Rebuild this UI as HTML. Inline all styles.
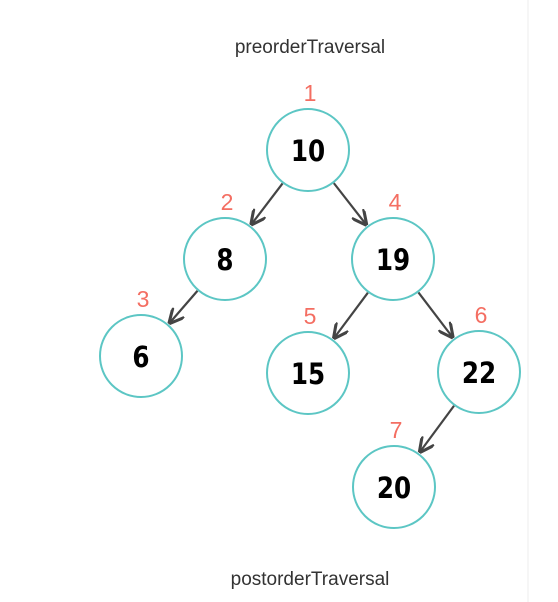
<!DOCTYPE html>
<html><head><meta charset="utf-8"><style>
html,body{margin:0;padding:0;background:#fff;}
svg{display:block;}
</style></head><body>
<svg id="chart" width="558" height="602" viewBox="0 0 558 602" xmlns="http://www.w3.org/2000/svg">
<defs><marker id="arr" viewBox="0 0 10 10" refX="9" refY="5" markerWidth="7" markerHeight="7" orient="auto"><path d="M0,0 L10,5 L0,10" fill="none" stroke="#444" stroke-width="2"/></marker></defs>
<text x="310" y="53" text-anchor="middle" font-family="Liberation Sans, sans-serif" font-size="19" fill="#333">preorderTraversal</text>
<text x="310" y="585" text-anchor="middle" font-family="Liberation Sans, sans-serif" font-size="19" fill="#333">postorderTraversal</text>
<line x1="528" y1="0" x2="528" y2="602" stroke="#eee" stroke-width="1"/>
<g id="edges"></g><g id="nodes"></g>
</svg>
<script>
const values = [10, 8, 19, 6, 15, 22, 20];
const order = [1, 2, 4, 3, 5, 6, 7];
const cx = [308, 225, 393, 141, 308, 479, 394];
const cy = [150, 259, 259, 356, 373, 372, 487];
const parents = [-1, 0, 0, 1, 2, 2, 5];
const R = 41, NS = 'http://www.w3.org/2000/svg';
const eg = document.getElementById('edges'), ng = document.getElementById('nodes');
for (let i = 0; i < values.length; i++) {
  const p = parents[i];
  if (p >= 0) {
    const dx = cx[i]-cx[p], dy = cy[i]-cy[p], d = Math.hypot(dx, dy);
    const l = document.createElementNS(NS, 'line');
    
    
    l.setAttribute('x1', cx[p] + dx/d*(R+1)); l.setAttribute('y1', cy[p] + dy/d*(R+1));
    l.setAttribute('x2', cx[i] - dx/d*(R+3)); l.setAttribute('y2', cy[i] - dy/d*(R+3));
    l.setAttribute('stroke', '#444'); l.setAttribute('stroke-width', '2.2');
    l.setAttribute('marker-end', 'url(#arr)');
    eg.appendChild(l);
  }
  const c = document.createElementNS(NS, 'circle');
  
  
  c.setAttribute('cx', cx[i]); c.setAttribute('cy', cy[i]); c.setAttribute('r', R);
  c.setAttribute('fill', '#fff'); c.setAttribute('stroke', '#5cc6c4'); c.setAttribute('stroke-width', '2');
  ng.appendChild(c);
  const t = document.createElementNS(NS, 'text');
  
  
  t.setAttribute('x', cx[i]); t.setAttribute('y', cy[i] + 11);
  t.setAttribute('text-anchor', 'middle');
  t.setAttribute('font-family', 'DejaVu Sans, sans-serif');
  t.setAttribute('font-weight', 'bold'); t.setAttribute('font-size', '29');
  t.setAttribute('fill', '#000');
  t.setAttribute('transform', 'translate(' + cx[i] + ',0) scale(0.85,1) translate(' + (-cx[i]) + ',0)');
  t.textContent = values[i];
  ng.appendChild(t);
  const o = document.createElementNS(NS, 'text');
  
  
  o.setAttribute('x', cx[i] + 2); o.setAttribute('y', cy[i] - R - 8);
  o.setAttribute('text-anchor', 'middle');
  o.setAttribute('font-family', 'Liberation Sans, sans-serif');
  o.setAttribute('font-size', '23'); o.setAttribute('fill', '#f46e62');
  o.textContent = order[i];
  ng.appendChild(o);
}
</script>
</body></html>
